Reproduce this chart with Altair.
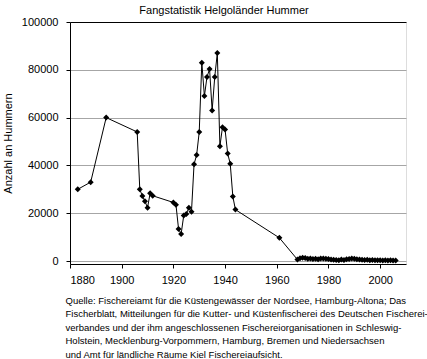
import altair as alt
import pandas as pd

# Annual lobster catch at Helgoland (number of animals)
years = [1883, 1888, 1894, 1906, 1907, 1908, 1909, 1910, 1911, 1912,
         1920, 1921, 1922, 1923, 1924, 1925, 1926, 1927, 1928, 1929,
         1930, 1931, 1932, 1933, 1934, 1935, 1936, 1937, 1938, 1939,
         1940, 1941, 1942, 1943, 1944, 1961,
         1968, 1969, 1970, 1971, 1972, 1973, 1974, 1975, 1976, 1977,
         1978, 1979, 1980, 1981, 1982, 1983, 1984, 1985, 1986, 1987,
         1988, 1989, 1990, 1991, 1992, 1993, 1994, 1995, 1996, 1997,
         1998, 1999, 2000, 2001, 2002, 2003, 2004, 2005, 2006]
catch = [30000, 33000, 60000, 54000, 30000, 27200, 25000, 22300, 28300, 27300,
         24500, 23500, 13400, 11300, 19000, 19700, 22300, 20600, 40500, 44400,
         54000, 83000, 69000, 77000, 80300, 63000, 77000, 87000, 48000, 56000,
         55000, 45000, 40700, 27000, 21500, 9700,
         600, 1200, 1400, 1300, 900, 1100, 800, 900, 700, 1000,
         1100, 900, 800, 600, 500, 400, 300, 600, 400, 700,
         800, 1000, 900, 700, 600, 500, 400, 500, 300, 400,
         300, 350, 300, 250, 300, 250, 300, 200, 250]

x_ticks = [1880, 1900, 1920, 1940, 1960, 1980, 2000]
y_ticks = [0, 20000, 40000, 60000, 80000, 100000]

caption = [
    "Quelle: Fischereiamt für die Küstengewässer der Nordsee, Hamburg-Altona; Das",
    "Fischerblatt, Mitteilungen für die Kutter- und Küstenfischerei des Deutschen Fischerei-",
    "verbandes und der ihm angeschlossenen Fischereiorganisationen in Schleswig-",
    "Holstein, Mecklenburg-Vorpommern, Hamburg, Bremen und Niedersachsen",
    "und Amt für ländliche Räume Kiel Fischereiaufsicht.",
]

df = pd.DataFrame({"Jahr": years, "Anzahl": catch})

FONT = "Liberation Sans"

x_enc = alt.X(
    "Jahr:Q",
    scale=alt.Scale(domain=[1880, 2010], nice=False, zero=False),
    axis=alt.Axis(
        values=x_ticks, format="d", grid=False,
        domainColor="black", tickColor="black", tickSize=4,
        labelFontSize=11, labelFont=FONT, labelColor="black", labelPadding=6,
        title=caption, titleFont=FONT, titleFontSize=9.5, titleFontWeight="normal",
        titleColor="black", titleAnchor="start", titleAlign="left",
        titleBaseline="top", titleX=-5, titleY=31, titleLineHeight=13.5,
    ),
)
y_enc = alt.Y(
    "Anzahl:Q",
    scale=alt.Scale(domain=[-1250, 100000], nice=False, zero=False),
    axis=alt.Axis(
        values=y_ticks, format="d",
        gridColor={"condition": {"test": "datum.value == 100000", "value": "black"},
                   "value": "#a6a6a6"},
        domainColor="black", tickColor="black", tickSize=4,
        labelFontSize=11, labelFont=FONT, labelColor="black", labelPadding=8,
        title="Anzahl an Hummern", titleFont=FONT, titleFontSize=11,
        titleFontWeight="normal", titleColor="black",
        titleX=-62, titleY=121, titleAngle=-90, titleBaseline="middle",
    ),
)

base = alt.Chart(df)
line = base.mark_line(color="black", strokeWidth=1).encode(x=x_enc, y=y_enc)
points = base.mark_point(shape="diamond", filled=True, color="black", size=36, opacity=1).encode(
    x="Jahr:Q", y="Anzahl:Q"
)

chart = (
    alt.layer(line, points)
    .properties(
        width=336,
        height=242,
        title=alt.TitleParams(
            "Fangstatistik Helgoländer Hummer", font=FONT, fontSize=11,
            fontWeight="normal", color="black", anchor="middle", dx=-14,
            dy=11, offset=2, baseline="alphabetic",
        ),
        autosize=alt.AutoSizeParams(type="none"),
        padding={"left": 70, "top": 22, "right": 21, "bottom": 95},
    )
    .configure_view(stroke="black", strokeWidth=1)
    .configure(background="white")
)

chart.save("out.html", embed_options={"renderer": "svg", "actions": False})
